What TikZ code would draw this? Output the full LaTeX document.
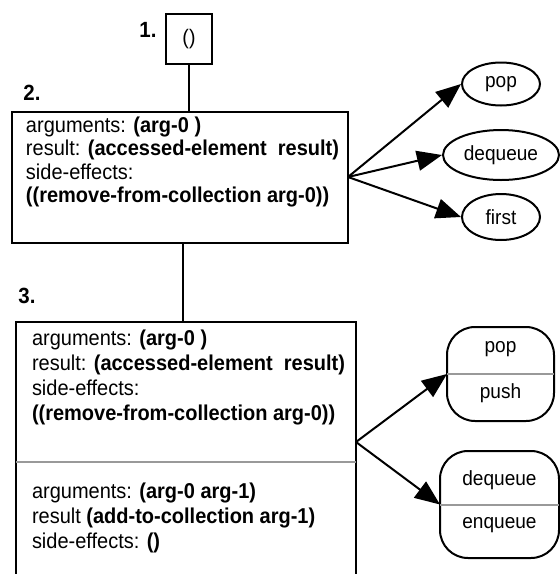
\documentclass[tikz,border=0pt]{standalone}
\usepackage{fontspec}
\setmainfont{Liberation Sans}[FakeStretch=0.93]
\usetikzlibrary{arrows.meta,shapes.geometric,calc}
\begin{document}
\begin{tikzpicture}[x=1pt,y=-1pt,
  line width=2pt,
  box/.style={draw, rectangle, inner sep=0pt},
  txt/.style={anchor=west, align=left, inner sep=0pt, font=\fontsize{21.5}{23.3}\selectfont},
  txtb/.style={anchor=west, align=left, inner sep=0pt, font=\fontsize{21.5}{25}\selectfont},
  lbl/.style={font=\fontsize{22}{24}\selectfont\bfseries, inner sep=0pt},
  oval/.style={draw, ellipse, inner sep=0pt, font=\fontsize{20.5}{22}\selectfont},
  rbox/.style={rectangle, inner sep=0pt},
  rframe/.style={draw, rounded corners=28pt},
  tip/.style={-{Triangle[length=25pt,width=20pt]}},
  sep/.style={draw=black!40, line width=2pt},
  item/.style={inner sep=0pt, font=\fontsize{20.5}{22}\selectfont}
]
\useasboundingbox (0,0) rectangle (560,574);

% box 1
\node[box, minimum width=46pt, minimum height=50pt] (b1) at (189,39) {\fontsize{21}{22}\selectfont ()};
\node[lbl] (l1) at (148,30) {1.};

% box 2
\node[box, minimum width=336pt, minimum height=131pt] (b2) at (180,177.5) {};
\node[lbl] (l2) at (32,93) {2.};
\node[txt] (t2) at (25,162) {arguments: \textbf{(arg-0 )}\\
result: \textbf{(accessed-element\ \ result)}\\
side-effects:\\
\textbf{((remove-from-collection arg-0))}};

% box 3
\begin{scope}
\clip (0,0) rectangle (560,574);
\node[box, minimum width=340pt, minimum height=278pt] (b3) at (186,461) {};
\end{scope}
\node[lbl] (l3) at (27,296) {3.};
\coordinate (s3a) at (16,462);
\coordinate (s3b) at (356,462);
\draw[sep] (s3a) -- (s3b);
\node[txtb] (t3a) at (31,377) {arguments: \textbf{(arg-0 )}\\
result: \textbf{(accessed-element\ \ result)}\\
side-effects:\\
\textbf{((remove-from-collection arg-0))}};
\node[txtb] (t3b) at (31,518) {arguments: \textbf{(arg-0 arg-1)}\\
result \textbf{(add-to-collection arg-1)}\\
side-effects: \textbf{()}};

% connectors between boxes
\draw (b1.south) -- (b1.south |- b2.north);
\coordinate (c2) at ($(b2.south)+(3,0)$);
\draw (c2) -- (c2 |- b3.north);

% ovals
\node[oval, minimum width=78pt, minimum height=43pt] (pop) at (501,84) {pop};
\node[oval, minimum width=116pt, minimum height=50pt] (deq) at (501,155) {dequeue};
\node[oval, minimum width=78pt, minimum height=46pt] (first) at (501,217) {first};
\coordinate (o2) at (348,177);
\draw[tip] (o2) -- (pop.west);
\draw[tip] (o2) -- (deq.west);
\draw[tip] (o2) -- (first.west);

% rounded split boxes
\node[rbox, minimum width=105pt, minimum height=92pt] (pp) at (500.5,374) {};
\draw[rframe] (pp.north west) rectangle (pp.south east);
\draw[sep] (pp.west) -- (pp.east);
\node[item] (ppa) at (500.5,349) {pop};
\node[item] (ppb) at (500.5,393) {push};
\node[rbox, minimum width=117pt, minimum height=105pt] (de) at (499.5,504.5) {};
\draw[rframe] (de.north west) rectangle (de.south east);
\draw[sep] (de.west) -- (de.east);
\node[item] (dea) at (499.5,480) {dequeue};
\node[item] (deb) at (499.5,525) {enqueue};
\coordinate (o3) at (356,442);
\draw[tip] (o3) -- (pp.west);
\draw[tip] (o3) -- (de.west);
\end{tikzpicture}
\end{document}
